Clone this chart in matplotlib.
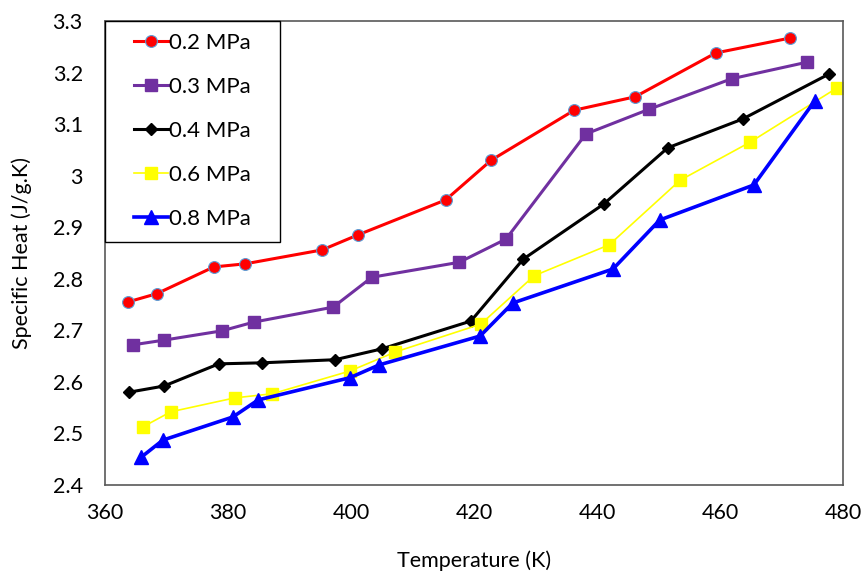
import matplotlib.pyplot as plt
from matplotlib.patches import Rectangle

plt.rcParams['font.family'] = ['Lato', 'DejaVu Sans']

t_02 = [363.7, 368.4, 377.7, 382.8, 395.3, 401.1, 415.4, 422.8, 436.3, 446.2, 459.3, 471.4]
c_02 = [2.755, 2.771, 2.823, 2.829, 2.856, 2.885, 2.953, 3.030, 3.127, 3.153, 3.238, 3.267]

t_03 = [364.6, 369.6, 379.0, 384.2, 397.1, 403.4, 417.6, 425.2, 438.2, 448.5, 461.9, 474.1]
c_03 = [2.672, 2.681, 2.699, 2.716, 2.745, 2.803, 2.832, 2.877, 3.081, 3.129, 3.188, 3.220]

t_04 = [363.9, 369.6, 378.5, 385.5, 397.4, 405.0, 419.5, 428.0, 441.1, 451.5, 463.7, 477.7]
c_04 = [2.580, 2.592, 2.635, 2.637, 2.643, 2.664, 2.718, 2.838, 2.945, 3.054, 3.110, 3.197]

t_06 = [366.2, 370.7, 381.1, 387.2, 399.8, 407.2, 421.1, 429.8, 442.0, 453.5, 464.9, 479.0]
c_06 = [2.513, 2.542, 2.569, 2.577, 2.621, 2.658, 2.712, 2.806, 2.866, 2.991, 3.065, 3.170]

t_08 = [365.9, 369.4, 380.8, 384.9, 399.8, 404.6, 421.0, 426.3, 442.6, 450.2, 465.5, 475.4]
c_08 = [2.454, 2.487, 2.532, 2.565, 2.608, 2.633, 2.689, 2.753, 2.819, 2.914, 2.982, 3.145]

x_ticks = [360, 380, 400, 420, 440, 460, 480]
y_ticks = [2.4, 2.5, 2.6, 2.7, 2.8, 2.9, 3.0, 3.1, 3.2, 3.3]
y_labels = ['2.4', '2.5', '2.6', '2.7', '2.8', '2.9', '3', '3.1', '3.2', '3.3']

fs = 15.5

fig = plt.figure(figsize=(8.64, 5.71), dpi=100)
ax = fig.add_axes([0.1215, 0.1506, 0.8542, 0.8126])

ax.plot(t_02, c_02, color='#FF0000', lw=2.2, marker='o', ms=8.5,
        mfc='#FF0000', mec='#5B9BD5', mew=0.8, label='0.2 MPa')
ax.plot(t_03, c_03, color='#7030A0', lw=2.2, marker='s', ms=9,
        mfc='#7030A0', mec='#7030A0', label='0.3 MPa')
ax.plot(t_04, c_04, color='black', lw=2.2, marker='D', ms=6.5,
        mfc='black', mec='black', label='0.4 MPa')
ax.plot(t_06, c_06, color='#FFFF00', lw=1.2, marker='s', ms=8,
        mfc='#FFFF00', mec='#FFFF00', label='0.6 MPa')
ax.plot(t_08, c_08, color='#0000FF', lw=2.6, marker='^', ms=9.5,
        mfc='#0000FF', mec='#0000FF', label='0.8 MPa')

ax.set_xlim(360, 480)
ax.set_ylim(2.4, 3.3)
ax.set_xticks(x_ticks)
ax.set_yticks(y_ticks)
ax.set_yticklabels(y_labels)
ax.tick_params(length=0, labelsize=fs, colors='black')
ax.tick_params(axis='x', pad=13)
ax.tick_params(axis='y', pad=16)
for s in ax.spines.values():
    s.set_color('#595959')
    s.set_linewidth(1.2)

ax.set_xlabel('Temperature (K)', fontsize=fs, labelpad=20)
ax.set_ylabel('Specific Heat (J/g.K)', fontsize=fs, labelpad=15)

# legend box drawn separately so its size matches the original
ax.add_patch(Rectangle((0, 0.524), 0.237, 0.476, transform=ax.transAxes,
                       facecolor='white', edgecolor='black', lw=1.0,
                       zorder=4, clip_on=False))
leg = ax.legend(loc='upper left', bbox_to_anchor=(0.040, 0.975), borderaxespad=0,
                fontsize=16, frameon=False, labelspacing=1.08, handlelength=1.5,
                handletextpad=0.05, borderpad=0)
leg.set_zorder(5)

fig.savefig('out.png', dpi=100)
